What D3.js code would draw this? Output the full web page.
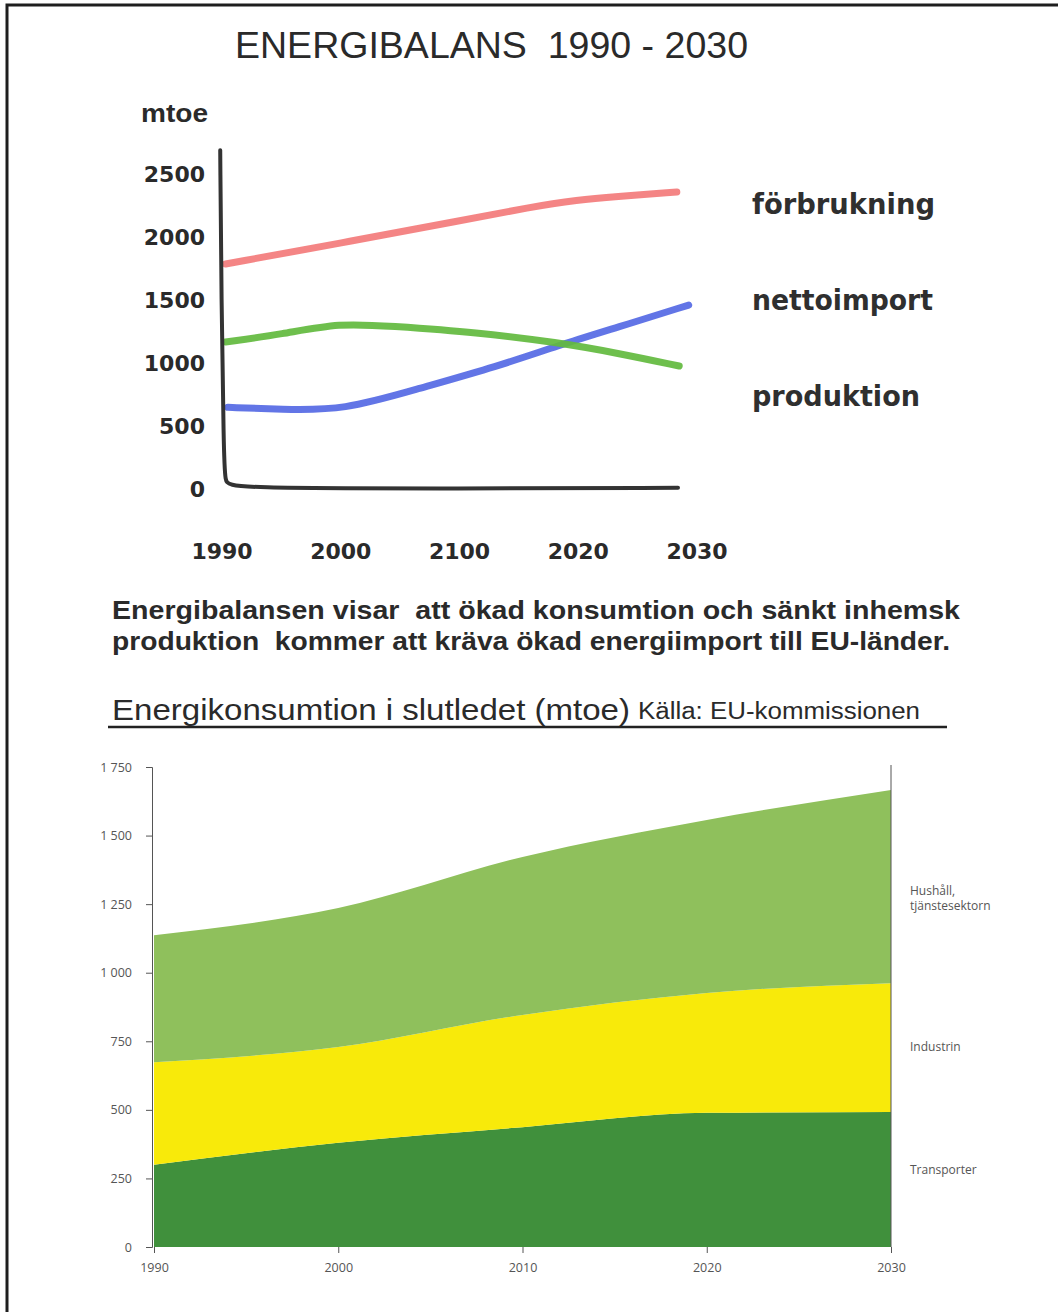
<!DOCTYPE html>
<html>
<head>
<meta charset="utf-8">
<script src="https://cdn.jsdelivr.net/npm/d3@7"></script>
<style>
  body { margin: 0; background: #fff; }
  svg { display: block; }
</style>
</head>
<body>
<svg id="chart" width="1058" height="1312"></svg>
<script>
// ---- top chart: energy balance (hand drawn) ----
const topYears = [1990, 2000, 2010, 2020, 2030];
const topYearLabels = ["1990", "2000", "2100", "2020", "2030"];
const topYTicks = [0, 500, 1000, 1500, 2000, 2500];

const forbrukning = [[1990.3, 1778], [2000, 1944], [2010, 2120], [2016, 2230], [2020, 2286], [2023, 2312], [2028.3, 2349]];
const nettoimport = [[1990.5, 640], [1995, 625], [2000.2, 615], [2006.6, 790], [2013.2, 965], [2018.3, 1130], [2023.3, 1275], [2029.3, 1452]];
const produktion = [[1990.3, 1159], [1995, 1220], [2000, 1310], [2004, 1285], [2011.5, 1235], [2018.3, 1155], [2023.3, 1071], [2028.5, 968]];

const topSeries = [
  { name: "förbrukning", data: forbrukning, color: "#f37b7b" },
  { name: "nettoimport", data: nettoimport, color: "#5569e4" },
  { name: "produktion", data: produktion, color: "#62ba3e" },
];
const legendNames = ["förbrukning", "nettoimport", "produktion"];

// ---- bottom chart: final energy consumption ----
const years = [1990, 2000, 2010, 2020, 2030];
const transporter = [300, 380, 437, 489, 492];
const industrin = [374, 349, 409, 437, 470];
const hushall = [463, 507, 576, 631, 704];
const bottomYTicks = [0, 250, 500, 750, 1000, 1250, 1500, 1750];

const svg = d3.select("#chart");
svg.append("rect").attr("width", 1058).attr("height", 1312).attr("fill", "#fff");

// page frame (top and left edges only)
svg.append("path")
  .attr("d", "M7,1312 V5 H1058")
  .attr("fill", "none")
  .attr("stroke", "#1e1e1e")
  .attr("stroke-width", 3);

// titles
svg.append("text")
  .attr("x", 235).attr("y", 58)
  .attr("font-family", "'Liberation Sans Narrow', 'Liberation Sans', Arial, sans-serif")
  .attr("font-size", 36)
  .attr("fill", "#2a2a2a")
  .attr("textLength", 513).attr("lengthAdjust", "spacingAndGlyphs")
  .attr("xml:space", "preserve")
  .text("ENERGIBALANS  1990 - 2030");

svg.append("text")
  .attr("x", 141).attr("y", 122)
  .attr("font-family", "'Liberation Sans', Arial, sans-serif")
  .attr("font-weight", "bold")
  .attr("font-size", 25)
  .attr("fill", "#2a2a2a")
  .attr("textLength", 67).attr("lengthAdjust", "spacingAndGlyphs")
  .text("mtoe");

// scales for the top chart
const xTop = d3.scaleLinear().domain([1990, 2030]).range([222, 697]);
const yTop = d3.scaleLinear().domain([0, 2500]).range([488, 173]);

const topFont = "'DejaVu Sans', Verdana, sans-serif";

const topG = svg.append("g");

topG.selectAll(".ylab")
  .data(topYTicks)
  .join("text")
  .attr("class", "ylab")
  .attr("x", 205)
  .attr("y", (d) => yTop(d) + 9)
  .attr("text-anchor", "end")
  .attr("font-family", topFont)
  .attr("font-weight", "bold")
  .attr("font-size", 22)
  .attr("fill", "#2a2a2a")
  .text((d) => d);

topG.selectAll(".xlab")
  .data(topYears)
  .join("text")
  .attr("class", "xlab")
  .attr("x", (d) => xTop(d))
  .attr("y", 559)
  .attr("text-anchor", "middle")
  .attr("font-family", topFont)
  .attr("font-weight", "bold")
  .attr("font-size", 22)
  .attr("fill", "#2a2a2a")
  .text((d, i) => topYearLabels[i]);

// data lines
const topLine = d3.line()
  .x((d) => xTop(d[0]))
  .y((d) => yTop(d[1]))
  .curve(d3.curveBasis);

topG.selectAll(".series")
  .data(topSeries)
  .join("path")
  .attr("class", "series")
  .attr("d", (d) => topLine(d.data))
  .attr("fill", "none")
  .attr("stroke", (d) => d.color)
  .attr("stroke-width", 7)
  .attr("stroke-linecap", "round")
  .attr("stroke-linejoin", "round")
  .attr("opacity", 0.92);

// hand drawn axis
const axisPts = [[1989.85, 2680], [1989.95, 1500], [1990.15, 300], [1990.25, 40], [1990.7, 0], [2010, -5], [2028.4, 2]];
topG.append("path")
  .attr("d", d3.line().x((d) => xTop(d[0])).y((d) => yTop(d[1])).curve(d3.curveBasis)(axisPts))
  .attr("fill", "none")
  .attr("stroke", "#333")
  .attr("stroke-width", 4)
  .attr("stroke-linecap", "round");

// legend labels
topG.selectAll(".leg")
  .data(legendNames)
  .join("text")
  .attr("class", "leg")
  .attr("x", 752)
  .attr("y", (d, i) => 214 + i * 96)
  .attr("font-family", topFont)
  .attr("font-weight", "bold")
  .attr("font-size", 28)
  .attr("fill", "#2f2f2f")
  .attr("textLength", (d, i) => [183, 181, 168][i])
  .attr("lengthAdjust", "spacingAndGlyphs")
  .text((d) => d);

// caption
const caption = [
  "Energibalansen visar  att ökad konsumtion och sänkt inhemsk",
  "produktion  kommer att kräva ökad energiimport till EU-länder.",
];
svg.selectAll(".cap")
  .data(caption)
  .join("text")
  .attr("class", "cap")
  .attr("x", 112)
  .attr("y", (d, i) => 619 + i * 31)
  .attr("font-family", "'Liberation Sans', Arial, sans-serif")
  .attr("font-weight", "bold")
  .attr("font-size", 25)
  .attr("fill", "#2a2a2a")
  .attr("xml:space", "preserve")
  .attr("textLength", (d, i) => [848, 838][i])
  .attr("lengthAdjust", "spacingAndGlyphs")
  .text((d) => d);

// bottom chart heading
svg.append("text")
  .attr("x", 112).attr("y", 720)
  .attr("font-family", "'Liberation Sans Narrow', 'Liberation Sans', Arial, sans-serif")
  .attr("font-size", 30)
  .attr("fill", "#2a2a2a")
  .attr("textLength", 518).attr("lengthAdjust", "spacingAndGlyphs")
  .text("Energikonsumtion i slutledet (mtoe)");
svg.append("text")
  .attr("x", 638).attr("y", 719)
  .attr("font-family", "'Liberation Sans Narrow', 'Liberation Sans', Arial, sans-serif")
  .attr("font-size", 23)
  .attr("fill", "#2a2a2a")
  .attr("textLength", 282).attr("lengthAdjust", "spacingAndGlyphs")
  .text("Källa: EU-kommissionen");
svg.append("line")
  .attr("x1", 108).attr("x2", 947)
  .attr("y1", 727).attr("y2", 727)
  .attr("stroke", "#222")
  .attr("stroke-width", 2.5);

// ---- bottom stacked area ----
const x = d3.scaleLinear().domain([1990, 2030]).range([154, 891]);
const y = d3.scaleLinear().domain([0, 1750]).range([1247, 767]);

const table = years.map((yr, i) => ({
  year: yr,
  transporter: transporter[i],
  industrin: industrin[i],
  hushall: hushall[i],
}));
const keys = ["transporter", "industrin", "hushall"];
const areaColors = { transporter: "#40903c", industrin: "#f8ea0a", hushall: "#8fc05c" };
const stacked = d3.stack().keys(keys)(table);

const area = d3.area()
  .x((d) => x(d.data.year))
  .y0((d) => y(d[0]))
  .y1((d) => y(d[1]))
  .curve(d3.curveMonotoneX);

const bottomG = svg.append("g");
bottomG.selectAll(".layer")
  .data(stacked)
  .join("path")
  .attr("class", "layer")
  .attr("d", area)
  .attr("fill", (d) => areaColors[d.key]);

const smallFont = "'Open Sans', 'Noto Sans', sans-serif";
const fmt = (d) => (d >= 1000 ? d3.format(",")(d).replace(",", " ") : String(d));

const yAxis = d3.axisLeft(y).tickValues(bottomYTicks).tickSize(6).tickPadding(14).tickFormat(fmt);
bottomG.append("g")
  .attr("transform", `translate(${x(1990) - 2},0)`)
  .call(yAxis)
  .call((g) => {
    g.select(".domain").attr("stroke", "#555").attr("stroke-width", 1);
    g.selectAll(".tick line").attr("stroke", "#555");
    g.selectAll(".tick text")
      .attr("font-family", smallFont)
      .attr("font-size", 12.5)
      .attr("fill", "#555");
  });

const xAxis = d3.axisBottom(x).tickValues(years).tickSize(6).tickPadding(10).tickFormat(d3.format("d"));
bottomG.append("g")
  .attr("transform", `translate(0,${y(0)})`)
  .call(xAxis)
  .call((g) => {
    g.select(".domain").attr("stroke", "none");
    g.selectAll(".tick line").attr("stroke", "#555");
    g.selectAll(".tick text")
      .attr("font-family", smallFont)
      .attr("font-size", 12.5)
      .attr("fill", "#555");
  });

// right edge line
bottomG.append("line")
  .attr("x1", x(2030)).attr("x2", x(2030))
  .attr("y1", y(1750) - 2).attr("y2", y(0))
  .attr("stroke", "#555")
  .attr("stroke-width", 1);

// series labels at right
const areaLabels = [
  { lines: ["Transporter"], y: 1174 },
  { lines: ["Industrin"], y: 1051 },
  { lines: ["Hushåll,", "tjänstesektorn"], y: 895 },
];
bottomG.selectAll(".alab")
  .data(areaLabels)
  .join("text")
  .attr("class", "alab")
  .attr("x", 910)
  .attr("y", (d) => d.y)
  .attr("font-family", smallFont)
  .attr("font-size", 12)
  .attr("fill", "#555")
  .selectAll("tspan")
  .data((d) => d.lines)
  .join("tspan")
  .attr("x", 910)
  .attr("dy", (d, i) => (i === 0 ? 0 : 15))
  .text((d) => d);
</script>
</body>
</html>
